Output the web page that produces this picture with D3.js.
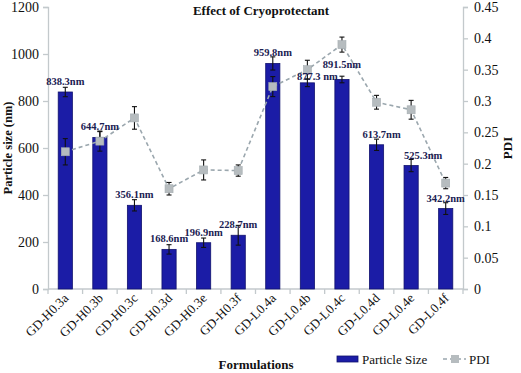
<!DOCTYPE html>
<html>
<head>
<meta charset="utf-8">
<script src="https://cdn.jsdelivr.net/npm/d3@7/dist/d3.min.js"></script>
<style>
  body { margin: 0; background: #fff; }
</style>
</head>
<body>
<div id="chart"></div>
<script>
const formulations = ['GD-H0.3a', 'GD-H0.3b', 'GD-H0.3c', 'GD-H0.3d', 'GD-H0.3e', 'GD-H0.3f',
  'GD-L0.4a', 'GD-L0.4b', 'GD-L0.4c', 'GD-L0.4d', 'GD-L0.4e', 'GD-L0.4f'];
const particleSize = [838.3, 644.7, 356.1, 168.6, 196.9, 228.7, 959.8, 877.3, 891.5, 613.7, 525.3, 342.2];
const sizeError = [20, 25, 24, 20, 20, 42, 28, 16, 14, 24, 26, 25];
const sizeLabels = ['838.3nm', '644.7nm', '356.1nm', '168.6nm', '196.9nm', '228.7nm',
  '959.8nm', '877.3 nm', '891.5nm', '613.7nm', '525.3nm', '342.2nm'];
const pdi = [0.219, 0.236, 0.273, 0.160, 0.190, 0.189, 0.323, 0.350, 0.390, 0.298, 0.286, 0.169];
const pdiError = [0.021, 0.016, 0.018, 0.010, 0.016, 0.009, 0.016, 0.015, 0.012, 0.011, 0.015, 0.009];
const sizeTicks = [0, 200, 400, 600, 800, 1000, 1200];
const pdiTicks = [0, 0.05, 0.1, 0.15, 0.2, 0.25, 0.3, 0.35, 0.4, 0.45];

const W = 521, H = 373;
const margin = { top: 7, right: 58, bottom: 84, left: 48 };
const AXIS = '#c3c9cc';
const BAR = '#1b1ca6';
const FONT = "'Times New Roman', 'Liberation Serif', serif";

// label nudges where the original labels were moved off-centre
const labelNudge = { 'GD-L0.4b': [10, 4], 'GD-L0.4c': [0, -4], 'GD-L0.4d': [5, 0], 'GD-L0.4e': [12, 0] };

const svg = d3.select('#chart').append('svg').attr('width', W).attr('height', H)
  .attr('font-family', FONT);

const x = d3.scaleBand().domain(formulations)
  .range([margin.left, W - margin.right]).paddingInner(0).paddingOuter(0);
const yL = d3.scaleLinear().domain([0, 1200]).range([H - margin.bottom, margin.top]);
const yR = d3.scaleLinear().domain([0, 0.45]).range([H - margin.bottom, margin.top]);
const bw = x.bandwidth() * 0.41;
const cx = d => x(d) + x.bandwidth() / 2;

// axes
const leftAxis = svg.append('g').attr('transform', `translate(${margin.left},0)`)
  .call(d3.axisLeft(yL).tickValues(sizeTicks).tickSize(5).tickPadding(4).tickFormat(d3.format('d')));
const rightAxis = svg.append('g').attr('transform', `translate(${W - margin.right},0)`)
  .call(d3.axisRight(yR).tickValues(pdiTicks).tickSize(5).tickPadding(6)
    .tickFormat(d => d === 0 ? '0' : String(+d.toFixed(2))));
[leftAxis, rightAxis].forEach(g => {
  g.attr('font-family', FONT).attr('font-size', 14);
  g.select('.domain').attr('stroke', AXIS).attr('stroke-width', 1.3);
  g.selectAll('.tick line').attr('stroke', AXIS).attr('stroke-width', 1.3);
  g.selectAll('.tick text').attr('fill', '#111');
});

const bottom = svg.append('g').attr('transform', `translate(0,${H - margin.bottom})`);
bottom.append('line').attr('x1', margin.left).attr('x2', W - margin.right)
  .attr('stroke', AXIS).attr('stroke-width', 1.3);
bottom.selectAll('.btick').data(formulations.concat(['end'])).enter().append('line')
  .attr('x1', (d, i) => i < formulations.length ? x(d) : W - margin.right)
  .attr('x2', (d, i) => i < formulations.length ? x(d) : W - margin.right)
  .attr('y1', 0).attr('y2', 5).attr('stroke', AXIS).attr('stroke-width', 1.3);
bottom.selectAll('.cat').data(formulations).enter().append('text')
  .attr('transform', d => `translate(${cx(d) + 4},${10}) rotate(-45)`)
  .attr('text-anchor', 'end')
  .attr('fill', '#111')
  .attr('font-size', 13)
  .text(d => d);

// bars
svg.selectAll('.bar').data(formulations).enter().append('rect')
  .attr('x', d => cx(d) - bw / 2)
  .attr('y', (d, i) => yL(particleSize[i]))
  .attr('width', bw)
  .attr('height', (d, i) => yL(0) - yL(particleSize[i]))
  .attr('fill', BAR).attr('stroke', '#11126e').attr('stroke-width', 0.8);

// error bars
const errBars = (cls, scale, vals, errs) => {
  const g = svg.selectAll('.' + cls).data(formulations).enter().append('g');
  g.append('line').attr('x1', d => cx(d)).attr('x2', d => cx(d))
    .attr('y1', (d, i) => scale(vals[i] - errs[i])).attr('y2', (d, i) => scale(vals[i] + errs[i]));
  g.append('line').attr('x1', d => cx(d) - 2.5).attr('x2', d => cx(d) + 2.5)
    .attr('y1', (d, i) => scale(vals[i] + errs[i])).attr('y2', (d, i) => scale(vals[i] + errs[i]));
  g.append('line').attr('x1', d => cx(d) - 2.5).attr('x2', d => cx(d) + 2.5)
    .attr('y1', (d, i) => scale(vals[i] - errs[i])).attr('y2', (d, i) => scale(vals[i] - errs[i]));
  g.selectAll('line').attr('stroke', '#111').attr('stroke-width', 1.1);
};
errBars('serr', yL, particleSize, sizeError);

// PDI line
const line = d3.line().x(d => cx(d)).y((d, i) => yR(pdi[i]));
svg.append('path').datum(formulations).attr('d', line)
  .attr('fill', 'none').attr('stroke', '#9ba7ae').attr('stroke-width', 1.6)
  .attr('stroke-dasharray', '4,3');
errBars('perr', yR, pdi, pdiError);
svg.selectAll('.pt').data(formulations).enter().append('rect')
  .attr('x', d => cx(d) - 4).attr('y', (d, i) => yR(pdi[i]) - 4)
  .attr('width', 8).attr('height', 8)
  .attr('fill', '#b6bcbf').attr('stroke', '#a5adb1').attr('stroke-width', 0.6);

// value labels
svg.selectAll('.vlab').data(formulations).enter().append('text')
  .attr('x', d => cx(d) + (labelNudge[d] ? labelNudge[d][0] : 0))
  .attr('y', (d, i) => yL(particleSize[i]) - 7 + (labelNudge[d] ? labelNudge[d][1] : 0))
  .attr('text-anchor', 'middle')
  .attr('fill', '#1a2152')
  .attr('font-size', 10.5).attr('font-weight', 'bold')
  .text((d, i) => sizeLabels[i]);

// titles
svg.append('text').attr('x', 261).attr('y', 15).attr('text-anchor', 'middle')
  .attr('font-size', 13).attr('font-weight', 'bold').attr('fill', '#111')
  .text('Effect of Cryoprotectant');
svg.append('text').attr('transform', `translate(12,${(yL(0) + yL(1200)) / 2}) rotate(-90)`)
  .attr('text-anchor', 'middle').attr('font-size', 12.5).attr('font-weight', 'bold')
  .attr('fill', '#111').text('Particle size (nm)');
svg.append('text').attr('transform', `translate(512,${(yR(0) + yR(0.45)) / 2}) rotate(-90)`)
  .attr('text-anchor', 'middle').attr('font-size', 13).attr('font-weight', 'bold')
  .attr('fill', '#111').text('PDI');
svg.append('text').attr('x', 256).attr('y', 369).attr('text-anchor', 'middle')
  .attr('font-size', 13).attr('font-weight', 'bold').attr('fill', '#111')
  .text('Formulations');

// legend
const lg = svg.append('g');
lg.append('rect').attr('x', 337).attr('y', 356).attr('width', 21).attr('height', 6)
  .attr('fill', BAR).attr('stroke', '#11126e').attr('stroke-width', 0.8);
lg.append('text').attr('x', 362).attr('y', 364).attr('font-size', 13).attr('fill', '#111')
  .text('Particle Size');
lg.append('line').attr('x1', 443).attr('x2', 466).attr('y1', 359).attr('y2', 359)
  .attr('stroke', '#9ba7ae').attr('stroke-width', 1.6).attr('stroke-dasharray', '4,3');
lg.append('rect').attr('x', 451).attr('y', 355).attr('width', 8).attr('height', 8)
  .attr('fill', '#b6bcbf');
lg.append('text').attr('x', 469).attr('y', 364).attr('font-size', 13).attr('fill', '#111')
  .text('PDI');
</script>
</body>
</html>
